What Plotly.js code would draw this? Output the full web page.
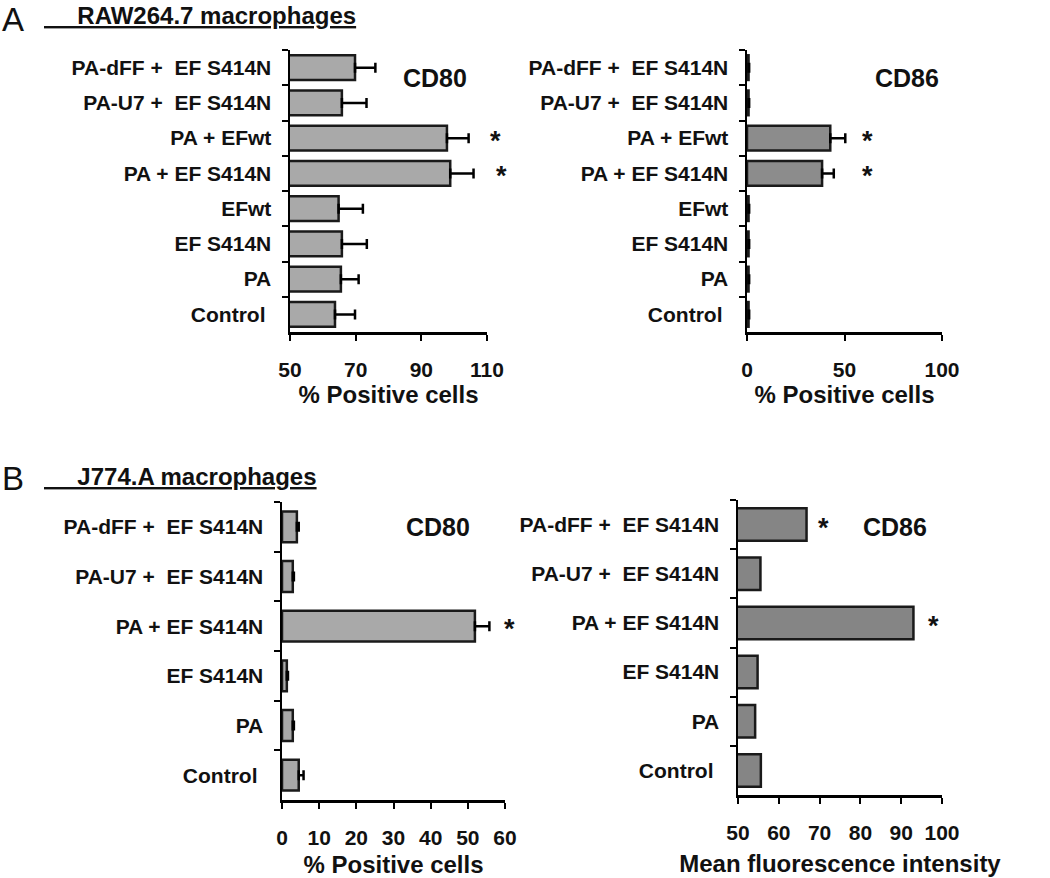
<!DOCTYPE html>
<html>
<head>
<meta charset="utf-8">
<script src="https://cdn.plot.ly/plotly-3.0.1.min.js"></script>
<style>
  html, body { margin: 0; padding: 0; background: #fff; }
  #chart { width: 1050px; height: 878px; }
</style>
</head>
<body>
<div id="chart"></div>
<script>
// categories, top to bottom
const catsRaw = ["PA-dFF +  EF S414N", "PA-U7 +  EF S414N", "PA + EFwt", "PA + EF S414N", "EFwt", "EF S414N", "PA", "Control "];
const catsJ774 = ["PA-dFF +  EF S414N", "PA-U7 +  EF S414N", "PA + EF S414N", "EF S414N", "PA", "Control "];

// A: RAW264.7, % positive cells
const rawCd80 = [69.8, 65.8, 97.8, 98.8, 64.8, 65.8, 65.5, 63.7];
const rawCd80Err = [6.2, 7.5, 6.6, 7.1, 7.4, 7.6, 5.4, 6.1];
const rawCd80Star = [0, 0, 1, 1, 0, 0, 0, 0];
const rawCd86 = [0.8, 0.8, 42.7, 38.5, 0.8, 0.8, 0.8, 0.8];
const rawCd86Err = [0.3, 0.3, 7.7, 6.0, 0.3, 0.3, 0.3, 0.3];
const rawCd86Star = [0, 0, 1, 1, 0, 0, 0, 0];

// B: J774.A
const jCd80 = [4.0, 2.9, 51.9, 1.3, 2.9, 4.5];
const jCd80Err = [0.5, 0.3, 3.9, 0.3, 0.3, 1.3];
const jCd80Star = [0, 0, 1, 0, 0, 0];
const jCd86 = [66.8, 55.5, 93.0, 54.8, 54.2, 55.6];
const jCd86Star = [1, 0, 1, 0, 0, 0];

const W = 1050, H = 878;
const FONT = "Arial, 'Liberation Sans', sans-serif";

// keep double / trailing spaces in svg text
const fix = (s) => s.replace(/  /g, " \u00a0").replace(/ $/, "\u00a0");

function bars(cats, vals, err, color, xa, ya, width) {
  const t = {
    type: "bar",
    orientation: "h",
    y: cats.map(fix),
    x: vals,
    base: 0,
    width: width,
    xaxis: xa,
    yaxis: ya,
    marker: { color: color, line: { color: "#1a1a1a", width: 2.5 } },
    hoverinfo: "x+y",
    showlegend: false,
  };
  if (err) {
    t.error_x = {
      type: "data",
      symmetric: false,
      array: err,
      arrayminus: err.map(() => 0),
      color: "#000",
      thickness: 2.5,
      width: 5,
    };
  }
  return t;
}

const data = [
  bars(catsRaw, rawCd80, rawCd80Err, "#a9a9a9", "x", "y", 0.7),
  bars(catsRaw, rawCd86, rawCd86Err, "#8c8c8c", "x2", "y2", 0.7),
  bars(catsJ774, jCd80, jCd80Err, "#a9a9a9", "x3", "y3", 0.62),
  bars(catsJ774, jCd86, null, "#858585", "x4", "y4", 0.66),
];

function xAxis(px0, px1, anchor, range, tickvals, title, standoff) {
  return {
    domain: [px0 / W, px1 / W],
    anchor: anchor,
    range: range,
    tickvals: tickvals,
    showline: true,
    linecolor: "#000",
    linewidth: 2.5,
    ticks: "outside",
    ticklen: 6,
    tickwidth: 2,
    tickcolor: "#000",
    showgrid: false,
    zeroline: false,
    fixedrange: true,
    ticklabelstandoff: 11,
    tickfont: { family: FONT, size: 21, weight: "bold", color: "#111" },
    title: { text: title, standoff: standoff, font: { family: FONT, size: 24, weight: "bold", color: "#111" } },
  };
}

function yAxis(py0, py1, anchor) {
  return {
    domain: [1 - py1 / H, 1 - py0 / H],
    anchor: anchor,
    type: "category",
    autorange: "reversed",
    tickson: "boundaries",
    showline: true,
    linecolor: "#000",
    linewidth: 2.5,
    ticks: "outside",
    ticklen: 6,
    tickwidth: 2,
    tickcolor: "#000",
    showgrid: false,
    zeroline: false,
    fixedrange: true,
    ticklabelstandoff: 12,
    tickfont: { family: FONT, size: 21, weight: "bold", color: "#111" },
  };
}

const annotations = [];
function txt(x, y, text, size, opts) {
  annotations.push(Object.assign({
    xref: "paper", yref: "paper", x: x / W, y: 1 - y / H,
    xanchor: "center", yanchor: "middle",
    text: text, showarrow: false,
    font: { family: FONT, size: size, weight: "bold", color: "#111" },
  }, opts || {}));
}
// star x given as fraction of the subplot width
function stars(flags, cats, xref, yref, xfrac) {
  flags.forEach((f, i) => {
    if (!f) return;
    annotations.push({
      xref: xref + " domain", yref: yref, x: Array.isArray(xfrac) ? xfrac[i] : xfrac, y: fix(cats[i]),
      xanchor: "center", yanchor: "middle",
      text: "*", showarrow: false, yshift: -3,
      font: { family: FONT, size: 27, weight: "bold", color: "#111" },
    });
  });
}

// panel letters and headings
txt(0, 19, "A", 33, { xanchor: "left", font: { family: FONT, size: 33, color: "#111" } });
txt(42, 16, "<u>\u00a0\u00a0\u00a0\u00a0\u00a0RAW264.7 macrophages</u>", 24, { xanchor: "left" });
txt(0, 479, "B", 33, { xanchor: "left", font: { family: FONT, size: 33, color: "#111" } });
txt(42, 476, "<u>\u00a0\u00a0\u00a0\u00a0\u00a0J774.A macrophages</u>", 24, { xanchor: "left" });

// marker labels
txt(435, 78, "CD80", 25);
txt(907, 78, "CD86", 25);
txt(438, 527, "CD80", 25);
txt(895, 527, "CD86", 25);

stars(rawCd80Star, catsRaw, "x", "y", [0, 0, 1.045, 1.075]);
stars(rawCd86Star, catsRaw, "x2", "y2", 0.62);
stars(jCd80Star, catsJ774, "x3", "y3", 1.018);
stars(jCd86Star, catsJ774, "x4", "y4", [0.42, 0, 0.956]);

const layout = {
  width: W,
  height: H,
  margin: { l: 0, r: 0, t: 0, b: 0 },
  paper_bgcolor: "#fff",
  plot_bgcolor: "rgba(0,0,0,0)",
  font: { family: FONT, color: "#111" },
  bargap: 0.3,
  showlegend: false,
  xaxis: xAxis(290, 487, "y", [50, 110], [50, 70, 90, 110], "% Positive cells", 6),
  yaxis: yAxis(50, 332, "x"),
  xaxis2: xAxis(747, 942, "y2", [0, 100], [0, 50, 100], "% Positive cells", 6),
  yaxis2: yAxis(50, 332, "x2"),
  xaxis3: xAxis(282, 505, "y3", [0, 60], [0, 10, 20, 30, 40, 50, 60], "% Positive cells", 11),
  yaxis3: yAxis(502, 800, "x3"),
  xaxis4: xAxis(738, 942, "y4", [50, 100], [50, 60, 70, 80, 90, 100], "Mean fluorescence intensity", 13),
  yaxis4: yAxis(500, 795, "x4"),
  annotations: annotations,
};

Plotly.newPlot("chart", data, layout, { displayModeBar: false, staticPlot: true });
</script>
</body>
</html>
